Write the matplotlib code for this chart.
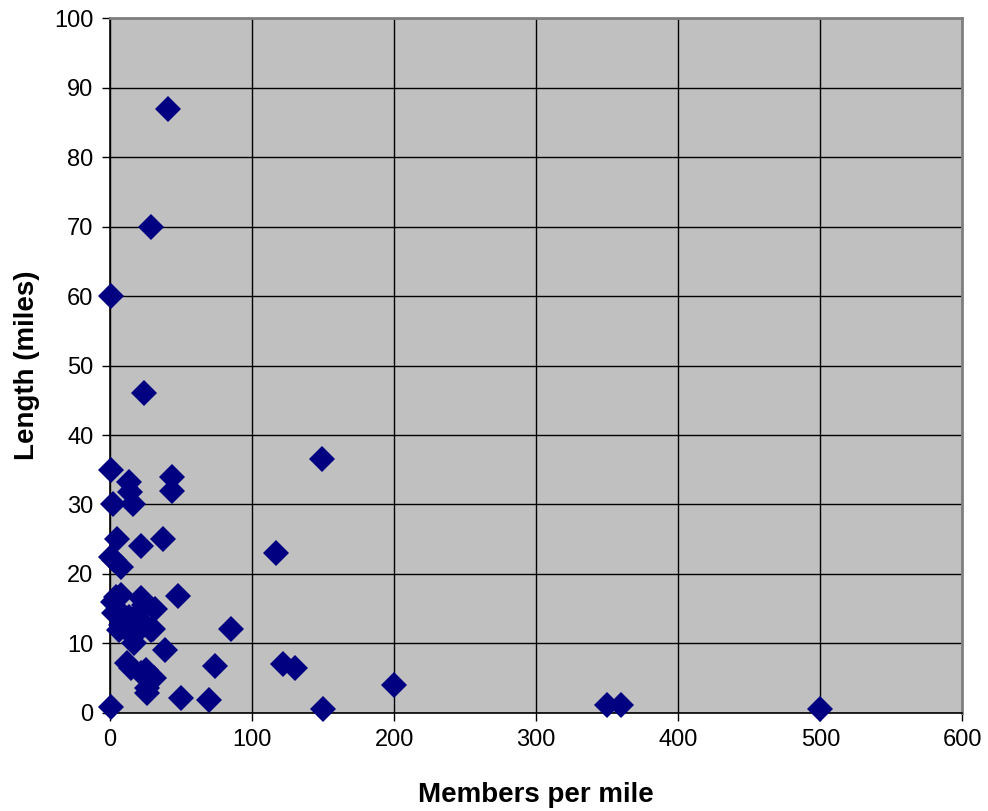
import matplotlib
matplotlib.use('Agg')
import matplotlib.pyplot as plt

plt.rcParams['font.family'] = ['Liberation Sans', 'DejaVu Sans']

# members per mile vs. length (miles)
members_per_mile = [0.5, 13.5, 44, 44, 14, 2, 16.5, 5, 37, 22, 0.7, 3, 7.7,
                    4.2, 21.7, 48, 2, 8, 32, 24, 3, 13.5, 7.7, 19.4, 6.5, 20.5,
                    28.7, 30, 85, 17, 39, 12.3, 15, 21.7, 25.2, 28.7, 31, 74,
                    26.4, 26, 50, 70, 0.5, 40.5, 29, 0.5, 24, 149, 117, 122,
                    130, 200, 150, 350, 360, 500, 10, 11, 16, 18]
length_miles = [35, 33.3, 34, 32, 31.8, 30, 30, 25, 25, 24, 22.5, 22, 21,
                16.7, 16.5, 16.8, 16, 17, 15, 15.5, 14.3, 13.8, 12.6, 13.6, 11.9, 12.4,
                11.9, 12, 12, 10, 9, 7.1, 6.5, 5.7, 6.2, 5.2, 5, 6.7,
                2.8, 3.5, 2.1, 1.8, 0.8, 87, 70, 60, 46, 36.5, 23, 7,
                6.5, 4, 0.5, 1.1, 1.1, 0.5, 14, 12.5, 11, 14]

fig = plt.figure(figsize=(9.88, 8.11), dpi=100)
ax = fig.add_axes([0.1113, 0.1212, 0.8628, 0.8560])
ax.set_facecolor('#C0C0C0')

ax.plot(members_per_mile, length_miles, linestyle='none', marker='D',
        markersize=13, color='#000080', markeredgewidth=0, clip_on=False, zorder=3)

ax.set_xlim(0, 600)
ax.set_ylim(0, 100)
ax.set_xticks(range(0, 601, 100))
ax.set_yticks(range(0, 101, 10))
ax.grid(True, color='black', linewidth=1)
ax.set_axisbelow(True)

for side in ['top', 'right']:
    ax.spines[side].set_color('#808080')
    ax.spines[side].set_linewidth(2)
for side in ['left', 'bottom']:
    ax.spines[side].set_color('black')
    ax.spines[side].set_linewidth(1.2)

ax.tick_params(direction='out', length=6, width=1, labelsize=17, pad=6)
ax.set_xlabel('Members per mile', fontsize=20, fontweight='bold', labelpad=22)
ax.set_ylabel('Length (miles)', fontsize=20, fontweight='bold', labelpad=10)

fig.savefig('out.png', dpi=100)
